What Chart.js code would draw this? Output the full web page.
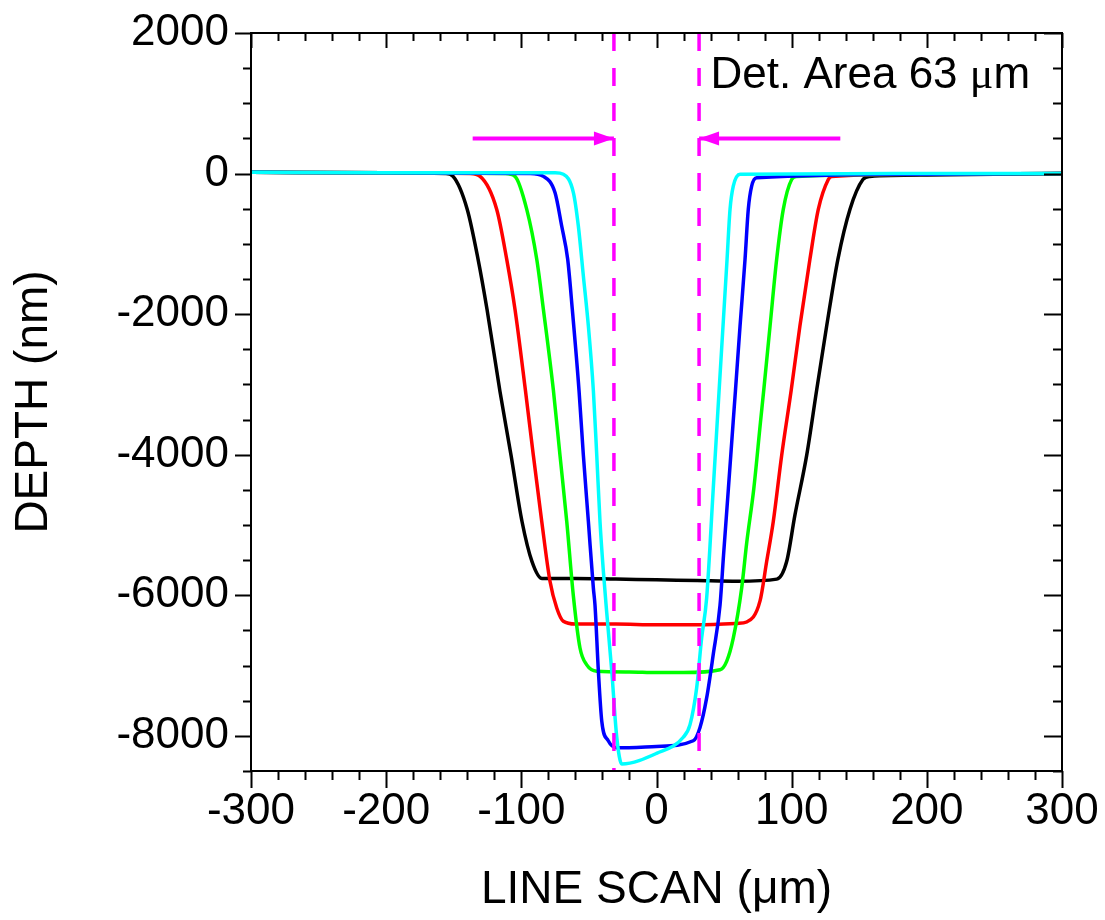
<!DOCTYPE html>
<html>
<head>
<meta charset="utf-8">
<script src="https://cdn.jsdelivr.net/npm/chart.js@4.4.0/dist/chart.umd.min.js"></script>
<style>
  html, body { margin: 0; padding: 0; background: #fff; }
</style>
</head>
<body>
<canvas id="depth-chart" width="1105" height="920"></canvas>
<script>
// line scan positions (um) and depths (nm)
const blackX = [-300, -200, -156, -150.5, -140, -132, -125.4, -115.8, -107.6, -99.5, -92.1, -84.7, -60, -30, 0, 30, 60, 89, 96.3, 102.4, 111.1, 118.5, 125.9, 134.2, 143.1, 152.7, 157.9, 200, 300];
const blackY = [20, 10, 0, -40, -510, -1220, -1930, -3100, -4010, -4950, -5520, -5760, -5760, -5770, -5780, -5790, -5800, -5770, -5520, -4860, -4010, -3080, -2170, -1220, -510, -85, -40, -20, 0];

const redX = [-300, -200, -138, -130.5, -118.2, -110.8, -104.7, -97, -91.1, -84.9, -78.8, -73.8, -68.9, -60, -30, 0, 30, 60, 66.7, 76.6, 81.5, 86.4, 92.6, 99.6, 106.1, 113.5, 119.7, 127.1, 129.6, 200, 300];
const redY = [20, 10, 0, -40, -510, -1220, -1930, -3080, -4010, -4950, -5800, -6180, -6370, -6410, -6410, -6420, -6420, -6400, -6380, -6080, -5520, -4950, -4010, -3090, -2170, -1220, -510, -85, -40, -10, 0];

const greenX = [-300, -200, -112, -104.7, -96, -88.6, -83.7, -76.3, -71.4, -66.4, -61.5, -56.6, -51.6, -44.2, -20, 0, 20, 47, 51.9, 56.8, 63, 66.7, 72, 76.9, 79.3, 84, 88.9, 93.8, 100, 103.7, 200, 300];
const greenY = [20, 10, 0, -40, -510, -1220, -1930, -3080, -4010, -4950, -6010, -6750, -6990, -7080, -7090, -7100, -7100, -7060, -6940, -6610, -5900, -5260, -4480, -3540, -3090, -2170, -1220, -510, -85, -40, -10, 0];

const blueX = [-300, -200, -93.6, -83.7, -75.1, -70.1, -65.7, -62.3, -57.3, -54.1, -50.4, -46.7, -45.5, -43, -40.5, -35.7, -29.4, 0, 27.2, 32.2, 37.1, 42, 47, 49.6, 53.2, 56.7, 58.4, 61.8, 65.5, 67.9, 70.4, 74.1, 200, 300];
const blueY = [20, 10, 0, -40, -270, -750, -1220, -1930, -3090, -4010, -4950, -5900, -6140, -7080, -7790, -8070, -8170, -8150, -8070, -7880, -7460, -6840, -6140, -5430, -4480, -3540, -3090, -2170, -1220, -510, -180, -60, -10, 0];

const cyanX = [-300, -200, -75, -68.9, -61.5, -57.8, -54.1, -50.4, -46.7, -44.2, -41.8, -39.3, -36.8, -33.1, -29.4, -25.7, 0, 19.8, 24.8, 29.7, 33.4, 37.1, 42, 46.4, 52.2, 54.4, 56.8, 61.8, 200, 300];
const cyanY = [20, 10, 10, -10, -270, -750, -1460, -2170, -3090, -4010, -4950, -5660, -6250, -7080, -8020, -8400, -8250, -8020, -7840, -7320, -6610, -6040, -4480, -3060, -1220, -510, -180, -10, 0, 0];

// detection area edges (63 um wide) and arrows pointing at them
const detEdges = [-31.5, 31.5];
const arrowLeftX = [-136, -31.5];
const arrowRightX = [136, 31.5];
const arrowDepth = 500;

const xTickValues = [-300, -200, -100, 0, 100, 200, 300];
const yTickValues = [-8000, -6000, -4000, -2000, 0, 2000];

const FONT = '"Liberation Sans", Arial, sans-serif';
const toPoints = (xs, ys) => xs.map((v, i) => ({ x: v, y: ys[i] }));

const profile = (xs, ys, color, order) => ({
    data: toPoints(xs, ys),
    borderColor: color,
    borderWidth: 3.5,
    pointRadius: 0,
    cubicInterpolationMode: "monotone",
    order: order,
});

const edgeLine = (v) => ({
    data: [{ x: v, y: 2000 }, { x: v, y: -8500 }],
    borderColor: "#ff00ff",
    borderWidth: 3.5,
    borderDash: [18, 17],
    pointRadius: 0,
    order: 0,
});

const arrowLine = (xs) => ({
    data: xs.map((v) => ({ x: v, y: arrowDepth })),
    borderColor: "#ff00ff",
    borderWidth: 4,
    pointRadius: 0,
    order: 0,
    isArrow: true,
});

// frame with ticks out on left/bottom and in on top/right
const frameTicks = {
    id: "frameTicks",
    afterDatasetsDraw(chart) {
        const { ctx, chartArea: a, scales: { x, y } } = chart;
        ctx.save();
        ctx.strokeStyle = "#000";
        ctx.lineWidth = 2;
        ctx.strokeRect(a.left, a.top, a.right - a.left, a.bottom - a.top);
        ctx.beginPath();
        for (let v = x.min; v <= x.max + 1e-6; v += 20) {
            const px = Math.round(x.getPixelForValue(v)) + 0.5;
            const major = Math.abs(v % 100) < 1e-6;
            ctx.moveTo(px, a.bottom);
            ctx.lineTo(px, a.bottom + (major ? 17 : 9));
            ctx.moveTo(px, a.top);
            ctx.lineTo(px, a.top + (major ? 15 : 8));
        }
        for (let v = y.min; v <= y.max + 1e-6; v += 500) {
            const py = Math.round(y.getPixelForValue(v)) + 0.5;
            const major = Math.abs(v % 2000) < 1e-6;
            ctx.moveTo(a.left, py);
            ctx.lineTo(a.left - (major ? 16 : 8), py);
            ctx.moveTo(a.right, py);
            ctx.lineTo(a.right - (major ? 18 : 9), py);
        }
        ctx.stroke();
        ctx.restore();
    },
};

const annotations = {
    id: "annotations",
    afterDatasetsDraw(chart) {
        const { ctx, scales: { x, y } } = chart;
        ctx.save();
        ctx.fillStyle = "#ff00ff";
        chart.data.datasets.forEach((ds) => {
            if (!ds.isArrow) return;
            const p0 = ds.data[0], p1 = ds.data[ds.data.length - 1];
            const tx = x.getPixelForValue(p1.x), ty = y.getPixelForValue(p1.y);
            const dir = Math.sign(x.getPixelForValue(p0.x) - tx);
            ctx.beginPath();
            ctx.moveTo(tx, ty);
            ctx.lineTo(tx + dir * 20, ty - 7);
            ctx.lineTo(tx + dir * 20, ty + 7);
            ctx.closePath();
            ctx.fill();
        });

        // Det. Area label, mu in serif like the original
        let tx = x.getPixelForValue(40);
        const ty = y.getPixelForValue(1220);
        ctx.fillStyle = "#000";
        ctx.textBaseline = "alphabetic";
        ctx.textAlign = "left";
        ctx.font = "44px " + FONT;
        ctx.fillText("Det. Area 63 ", tx, ty);
        tx += ctx.measureText("Det. Area 63 ").width;
        ctx.font = '44px "Liberation Serif", serif';
        ctx.fillText("\u03bc", tx, ty);
        tx += ctx.measureText("\u03bc").width;
        ctx.font = "44px " + FONT;
        ctx.fillText("m", tx, ty);
        ctx.restore();
    },
};

const ctx = document.getElementById("depth-chart").getContext("2d");
new Chart(ctx, {
    type: "line",
    data: {
        datasets: [
            edgeLine(detEdges[0]),
            edgeLine(detEdges[1]),
            arrowLine(arrowLeftX),
            arrowLine(arrowRightX),
            profile(cyanX, cyanY, "#00ffff", 1),
            profile(blueX, blueY, "#0000ff", 2),
            profile(greenX, greenY, "#00ff00", 3),
            profile(redX, redY, "#ff0000", 4),
            profile(blackX, blackY, "#000000", 5),
        ],
    },
    options: {
        responsive: false,
        animation: false,
        devicePixelRatio: 1,
        layout: { padding: { top: 33, right: 43, left: 0, bottom: 0 } },
        plugins: { legend: { display: false }, tooltip: { enabled: false } },
        scales: {
            x: {
                type: "linear",
                min: -300,
                max: 300,
                grid: { display: false, drawTicks: false },
                border: { display: false },
                afterBuildTicks: (s) => { s.ticks = xTickValues.map((v) => ({ value: v })); },
                afterFit: (s) => {
                    s.height = 149;
                    s.paddingLeft = 0;
                    s.paddingRight = 0;
                },
                ticks: {
                    color: "#000",
                    font: { family: FONT, size: 44 },
                    padding: 14,
                    maxRotation: 0,
                    autoSkip: false,
                    callback: (v) => String(v),
                },
                title: {
                    display: true,
                    text: "LINE SCAN (\u03bcm)",
                    color: "#000",
                    font: { family: FONT, size: 46 },
                    padding: { top: 0, bottom: 2 },
                },
            },
            y: {
                type: "linear",
                min: -8500,
                max: 2000,
                grid: { display: false, drawTicks: false },
                border: { display: false },
                afterBuildTicks: (s) => { s.ticks = yTickValues.map((v) => ({ value: v })); },
                afterFit: (s) => {
                    s.width = 251;
                    s.paddingTop = 0;
                    s.paddingBottom = 0;
                },
                ticks: {
                    color: "#000",
                    font: { family: FONT, size: 44 },
                    padding: 22,
                    autoSkip: false,
                    callback: (v) => String(v),
                },
                title: {
                    display: true,
                    text: "DEPTH (nm)",
                    color: "#000",
                    font: { family: FONT, size: 46 },
                    padding: { top: 7, bottom: 0 },
                },
            },
        },
    },
    plugins: [frameTicks, annotations],
});
</script>
</body>
</html>
